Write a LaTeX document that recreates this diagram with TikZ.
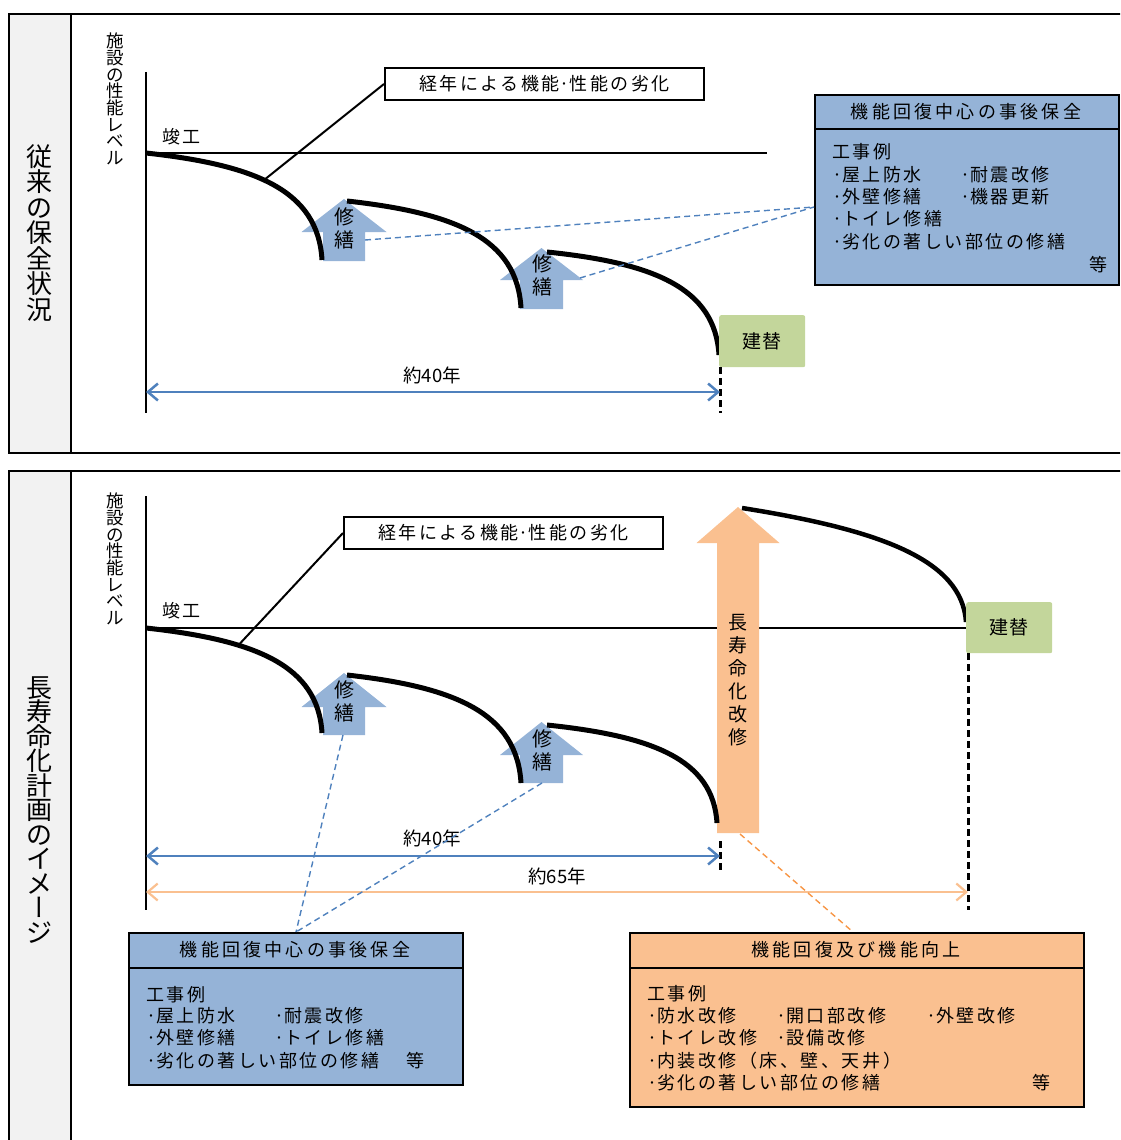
\documentclass[tikz,border=0pt]{standalone}
\usepackage{fontspec}
\setmainfont{Noto Sans CJK JP}
\newfontfamily\jpbody[LetterSpace=14]{Noto Sans CJK JP}
\newfontfamily\jphead[LetterSpace=18]{Noto Sans CJK JP}
\newfontfamily\jpsmall[LetterSpace=8]{Noto Sans CJK JP}
\newfontfamily\jpvert[RawFeature=+vert]{Noto Sans CJK JP}
\usetikzlibrary{arrows.meta}
\definecolor{bluefill}{HTML}{95B3D7}
\definecolor{greenfill}{HTML}{C3D69B}
\definecolor{orangefill}{HTML}{FAC090}
\definecolor{blueline}{HTML}{4F81BD}
\definecolor{orangeline}{HTML}{F79646}
\definecolor{panelgray}{HTML}{F2F2F2}
\newcommand\tightlines{\lineskiplimit=-100pt\relax}
\newcommand\mdot{{\rmfamily ·}}
\newcommand\uparrowpoly[7]{\fill[#1] (#2,#3) -- (#2+#6,#4) -- (#2+#7,#4) -- (#2+#7,#5) -- (#2-#7,#5) -- (#2-#7,#4) -- (#2-#6,#4) -- cycle;}
\begin{document}
\begin{tikzpicture}[x=1pt,y=-1pt,
 frame/.style={line width=2.5pt},
 axisline/.style={line width=1.6pt},
 decay/.style={line width=5pt},
 leader/.style={line width=2pt},
 bluedash/.style={draw=blueline, line width=1.4pt, dash pattern=on 6pt off 4pt},
 orangedash/.style={draw=orangeline, line width=1.4pt, dash pattern=on 6pt off 4pt},
 blackdash/.style={line width=3pt, dash pattern=on 7pt off 4pt},
 bluespan/.style={draw=blueline, line width=2.5pt, {Straight Barb[length=10pt,width=17pt]}-{Straight Barb[length=10pt,width=17pt]}},
 orangespan/.style={draw=orangefill, line width=2.2pt, {Straight Barb[length=10pt,width=17pt]}-{Straight Barb[length=10pt,width=17pt]}},
 boxline/.style={line width=2pt},
 body/.style={inner sep=0pt, anchor=west, font=\jpbody\fontsize{18}{20}\selectfont},
 head/.style={inner sep=0pt, font=\jphead\fontsize{18}{20}\selectfont},
 side/.style={inner sep=0pt, align=center, font=\fontsize{26}{25.5}\selectfont\tightlines},
 ylab/.style={inner sep=0pt, align=center, font=\fontsize{17.5}{16.7}\selectfont\tightlines},
 arrtext/.style={inner sep=0pt, align=center, font=\fontsize{20}{23}\selectfont\tightlines},
 greenbox/.style={fill=greenfill, rounded corners=2pt, inner sep=0pt, anchor=north west, minimum width=86pt, minimum height=52pt, font=\jpsmall\fontsize{19}{20}\selectfont},
 yearlab/.style={inner sep=0pt, font=\fontsize{18.5}{20}\selectfont}
]
\useasboundingbox (0,0) rectangle (1120,1140);
\clip (0,0) rectangle (1120,1140);

% ===== panels =====
\fill[panelgray] (9,14) rectangle (71,453);
\draw[frame] (9,14) rectangle (1135,453);
\draw[frame] (71,14) -- (71,453);
\fill[panelgray] (9,471) rectangle (71,1150);
\draw[frame] (9,471) rectangle (1135,1150);
\draw[frame] (71,471) -- (71,1150);

\node[side] (lab1) at (40,233) {従\\来\\の\\保\\全\\状\\況};
\node[side, font=\fontsize{26}{24.5}\selectfont\tightlines] (lab2) at (40,810) {長\\寿\\命\\化\\計\\画\\の\\イ\\メ\\{\jpvert ー}\\ジ};

% ===== top panel =====
\draw[axisline] (146,72) -- (146,413);
\node[ylab] (yl1) at (115,99) {施\\設\\の\\性\\能\\レ\\ベ\\ル};
\node[body] (kk1) at (162,137) {竣工};
\draw[axisline] (146,153) -- (767,153);

\uparrowpoly{bluefill}{344}{199}{232}{261}{42.5}{21}
\uparrowpoly{bluefill}{541.5}{248}{280}{309}{41.5}{21.5}
\node[arrtext] (ra1) at (344,228) {修\\繕};
\node[arrtext] (ra2) at (542,275) {修\\繕};

\draw[decay] (146,153) .. controls (255,165) and (318,190) .. (322,260) coordinate[pos=0.45] (cv1);
\draw[decay] (347,201) .. controls (455,213) and (517,238) .. (521,308);
\draw[decay] (547,252) .. controls (654,263) and (715,288) .. (719,355);

\node[draw, leader, inner sep=0pt, anchor=north west, minimum width=319pt, minimum height=32pt, font=\jpbody\fontsize{18}{20}\selectfont] (deg1) at (384,67) {経年による機能\mdot 性能の劣化};
\draw[leader] (deg1.west) -- (cv1);

\node[greenbox] (rb1) at (719,315) {建替};
\draw[blackdash] (720,367) -- (720,413);

\coordinate (s1a) at (146,392);
\coordinate (s1b) at (720,392);
\draw[bluespan] (s1a) -- (s1b);
\node[yearlab] (y1) at (432,375) {約40年};

\node[draw, boxline, fill=bluefill, inner sep=0pt, anchor=north west, minimum width=304pt, minimum height=190pt] (mb1) at (814,94) {};
\draw[boxline] (814,129) -- (1118,129);
\node[head] (h1) at (966,112) {機能回復中心の事後保全};
\node[body] (t1a) at (832,152) {工事例};
\node[body] (t1b) at (832,175) {\mdot 屋上防水};
\node[body] (t1c) at (960,175) {\mdot 耐震改修};
\node[body] (t1d) at (832,197) {\mdot 外壁修繕};
\node[body] (t1e) at (960,197) {\mdot 機器更新};
\node[body] (t1f) at (832,219) {\mdot トイレ修繕};
\node[body] (t1g) at (832,242) {\mdot 劣化の著しい部位の修繕};
\node[body, anchor=east] (t1h) at (1108,265) {等};

\coordinate (mb1in) at (814,207);
\coordinate (ra1r) at (365,240);
\coordinate (ra2r) at (580,278);
\draw[bluedash] (ra1r) -- (mb1in);
\draw[bluedash] (ra2r) -- (mb1in);

% ===== bottom panel =====
\draw[axisline] (146,496) -- (146,910);
\node[ylab] (yl2) at (115,559) {施\\設\\の\\性\\能\\レ\\ベ\\ル};
\node[body] (kk2) at (162,611) {竣工};
\draw[axisline] (146,628) -- (966,628);

\uparrowpoly{bluefill}{344}{673}{707}{735}{42.5}{21}
\uparrowpoly{bluefill}{541.5}{722}{755}{783}{41.5}{21.5}
\uparrowpoly{orangefill}{738}{507}{543}{833}{41.5}{21}
\node[arrtext] (rb1t) at (344,701) {修\\繕};
\node[arrtext] (rb2t) at (542,750) {修\\繕};
\node[arrtext, font=\fontsize{19}{23}\selectfont\tightlines] (lng) at (738,680) {長\\寿\\命\\化\\改\\修};

\draw[decay] (146,628) .. controls (255,640) and (318,665) .. (322,733) coordinate[pos=0.33] (cv2);
\draw[decay] (347,675) .. controls (455,687) and (517,713) .. (521,783);
\draw[decay] (547,725) .. controls (652,736) and (713,759) .. (717,823);
\draw[line width=4.5pt] (742,508) .. controls (881,530) and (962,560) .. (966,622);

\node[draw, leader, inner sep=0pt, anchor=north west, minimum width=319pt, minimum height=32pt, font=\jpbody\fontsize{18}{20}\selectfont] (deg2) at (343,516) {経年による機能\mdot 性能の劣化};
\draw[leader] (deg2.west) -- (cv2);

\node[greenbox, minimum height=51pt] (rb2) at (966,602) {建替};
\draw[blackdash] (968,653) -- (968,910);
\draw[blackdash] (720,841) -- (720,873);

\coordinate (s2a) at (146,856);
\coordinate (s2b) at (720,856);
\draw[bluespan] (s2a) -- (s2b);
\node[yearlab] (y2) at (432,838) {約40年};
\coordinate (s3a) at (146,892);
\coordinate (s3b) at (968,892);
\draw[orangespan] (s3a) -- (s3b);
\node[yearlab] (y3) at (557,876) {約65年};

% bottom blue box
\node[draw, boxline, fill=bluefill, inner sep=0pt, anchor=north west, minimum width=334pt, minimum height=152pt] (mb2) at (128,932) {};
\draw[boxline] (128,968) -- (462,968);
\node[head] (h2) at (295,950) {機能回復中心の事後保全};
\node[body] (t2a) at (146,995) {工事例};
\node[body] (t2b) at (146,1016) {\mdot 屋上防水};
\node[body] (t2c) at (274,1016) {\mdot 耐震改修};
\node[body] (t2d) at (146,1038) {\mdot 外壁修繕};
\node[body] (t2e) at (274,1038) {\mdot トイレ修繕};
\node[body] (t2f) at (146,1061) {\mdot 劣化の著しい部位の修繕};
\node[body] (t2g) at (406,1061) {等};

\coordinate (mb2in) at (296,932);
\coordinate (rb1b) at (343,735);
\coordinate (rb2b) at (542,783);
\draw[bluedash] (rb1b) -- (mb2in);
\draw[bluedash] (rb2b) -- (mb2in);

% bottom orange box
\node[draw, boxline, fill=orangefill, inner sep=0pt, anchor=north west, minimum width=454pt, minimum height=174pt] (ob) at (629,932) {};
\draw[boxline] (629,968) -- (1083,968);
\node[head] (h3) at (856,950) {機能回復及び機能向上};
\node[body] (o1) at (647,994) {工事例};
\node[body] (o2) at (647,1016) {\mdot 防水改修};
\node[body] (o3) at (776,1016) {\mdot 開口部改修};
\node[body] (o4) at (926,1016) {\mdot 外壁改修};
\node[body] (o5) at (647,1038) {\mdot トイレ改修};
\node[body] (o6) at (776,1038) {\mdot 設備改修};
\node[body] (o7) at (647,1061) {\mdot 内装改修（床、壁、天井）};
\node[body] (o8) at (647,1083) {\mdot 劣化の著しい部位の修繕};
\node[body] (o9) at (1032,1083) {等};

\coordinate (lngb) at (740,834);
\coordinate (obin) at (853,932);
\draw[orangedash] (lngb) -- (obin);
\end{tikzpicture}
\end{document}
